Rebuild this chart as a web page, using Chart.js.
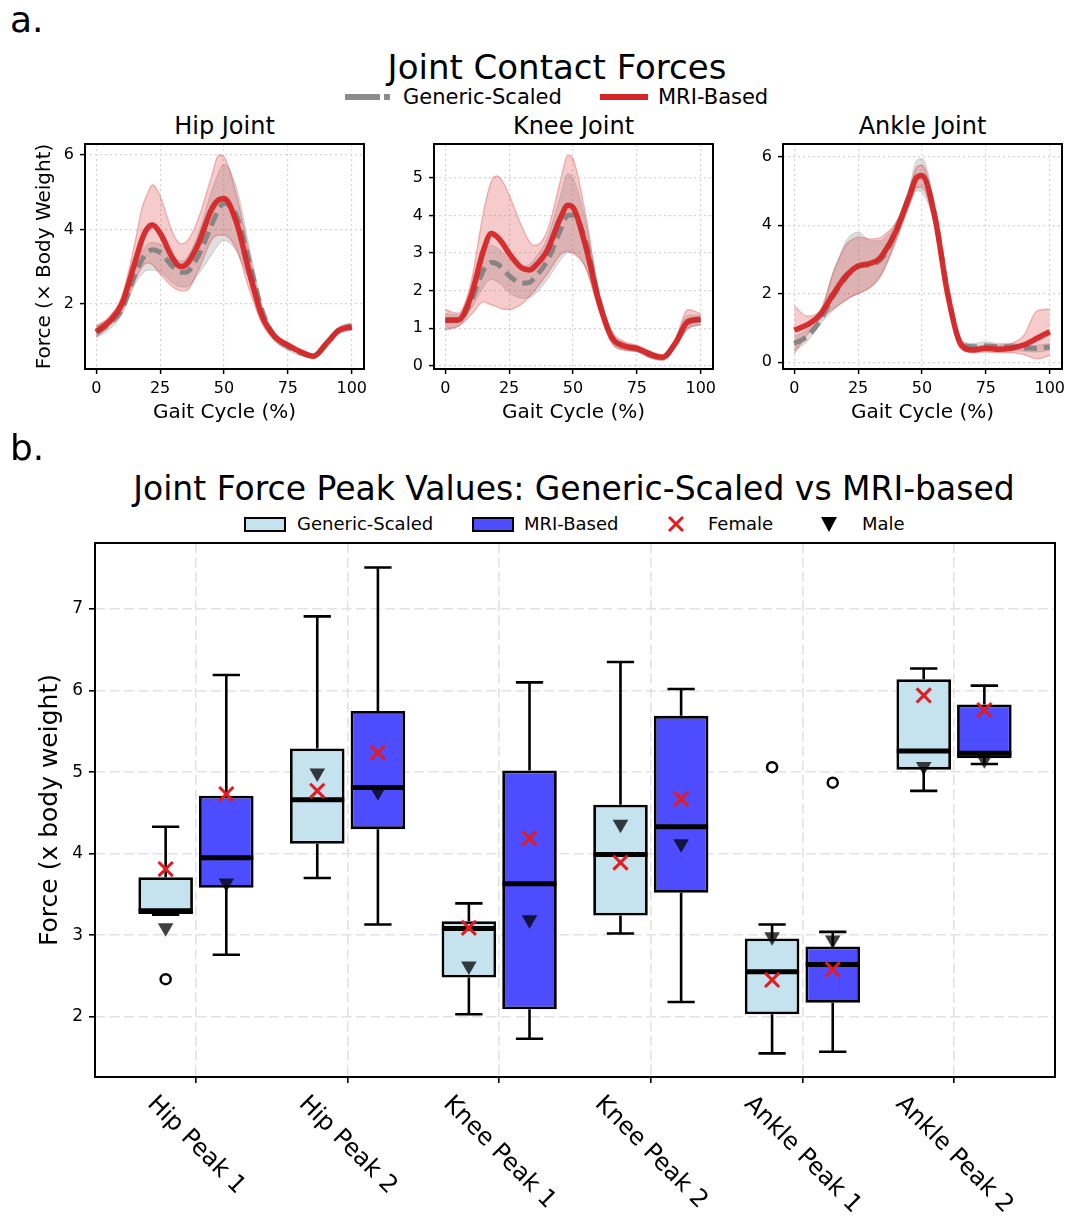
<!DOCTYPE html>
<html>
<head>
<meta charset="utf-8">
<title>Joint Contact Forces</title>
<script src="https://cdn.jsdelivr.net/npm/chart.js@4.4.1/dist/chart.umd.min.js"></script>
<style>
  html, body { margin: 0; padding: 0; background: #fff; }
  body { width: 1068px; height: 1220px; position: relative; overflow: hidden;
         font-family: "DejaVu Sans", sans-serif; color: #000; }
  .txt { position: absolute; white-space: nowrap; line-height: 1; }
  .ctr { transform: translateX(-50%); }
  canvas, svg { position: absolute; }
  .swatch { position: absolute; box-sizing: border-box; border: 2px solid #000; }
</style>
</head>
<body>

<div class="txt" style="left:10px; top:2px; font-size:36px;">a.</div>
<div class="txt ctr" style="left:557px; top:50px; font-size:34px;">Joint Contact Forces</div>

<svg style="left:345px; top:92px;" width="46" height="10">
  <line x1="0" y1="5" x2="46" y2="5" stroke="#8c8c8c" stroke-width="6" stroke-dasharray="35 4 6 100"/>
</svg>
<div class="txt" style="left:403px; top:87px; font-size:21px;">Generic-Scaled</div>
<svg style="left:600px; top:92px;" width="48" height="10">
  <line x1="0" y1="5" x2="48" y2="5" stroke="#d62728" stroke-width="6"/>
</svg>
<div class="txt" style="left:658px; top:87px; font-size:21px;">MRI-Based</div>

<div class="txt ctr" style="left:224.5px; top:114px; font-size:24px;">Hip Joint</div>
<div class="txt ctr" style="left:573.5px; top:114px; font-size:24px;">Knee Joint</div>
<div class="txt ctr" style="left:922.5px; top:114px; font-size:24px;">Ankle Joint</div>

<canvas id="hip" width="339" height="297" style="left:29px; top:134px;"></canvas>
<canvas id="knee" width="339" height="297" style="left:378px; top:134px;"></canvas>
<canvas id="ankle" width="339" height="297" style="left:727px; top:134px;"></canvas>

<div class="txt" style="left:10px; top:430px; font-size:36px;">b.</div>
<div class="txt ctr" style="left:574px; top:472px; font-size:33px;">Joint Force Peak Values: Generic-Scaled vs MRI-based</div>

<div class="swatch" style="left:244px; top:517px; width:42px; height:15px; background:#c5e3ee;"></div>
<div class="txt" style="left:297px; top:515px; font-size:18px;">Generic-Scaled</div>
<div class="swatch" style="left:472px; top:517px; width:42px; height:15px; background:#4d4dff;"></div>
<div class="txt" style="left:524px; top:515px; font-size:18px;">MRI-Based</div>
<svg style="left:667px; top:515px;" width="18" height="18">
  <line x1="2" y1="2" x2="16" y2="16" stroke="#e6191f" stroke-width="3"/>
  <line x1="16" y1="2" x2="2" y2="16" stroke="#e6191f" stroke-width="3"/>
</svg>
<div class="txt" style="left:708px; top:515px; font-size:18px;">Female</div>
<svg style="left:820px; top:516px;" width="18" height="18">
  <polygon points="1,1 17,1 9,16" fill="#000"/>
</svg>
<div class="txt" style="left:862px; top:515px; font-size:18px;">Male</div>

<canvas id="peaks" width="1038" height="690" style="left:30px; top:530px;"></canvas>

<script>
// ---------- Joint contact force curves (× body weight) over the gait cycle ----------
const gait = [0, 5, 10, 15, 18, 20, 22, 25, 30, 33, 35, 40, 45, 48, 50, 55, 60, 65, 70, 75, 80, 85, 90, 95, 100];

const hipGenMean = [1.22, 1.45, 1.85, 2.75, 3.20, 3.38, 3.45, 3.38, 3.00, 2.85, 2.85, 3.30, 4.10, 4.55, 4.70, 4.35, 3.10, 1.80, 1.10, 0.85, 0.68, 0.60, 0.90, 1.30, 1.40];
const hipGenLo   = [1.10, 1.30, 1.70, 2.50, 2.80, 2.90, 2.90, 2.85, 2.55, 2.45, 2.45, 2.80, 3.30, 3.60, 3.70, 3.40, 2.60, 1.60, 1.00, 0.75, 0.60, 0.52, 0.82, 1.20, 1.30];
const hipGenHi   = [1.40, 1.60, 2.00, 2.95, 3.40, 3.60, 3.65, 3.60, 3.30, 3.15, 3.20, 3.90, 5.00, 5.55, 5.75, 5.10, 3.50, 1.95, 1.20, 0.95, 0.75, 0.66, 0.98, 1.38, 1.50];
const hipMriMean = [1.25, 1.52, 2.00, 3.08, 3.75, 4.03, 4.12, 3.90, 3.22, 3.00, 3.04, 3.62, 4.52, 4.80, 4.83, 4.16, 2.82, 1.65, 1.11, 0.89, 0.71, 0.59, 0.93, 1.29, 1.38];
const hipMriLo   = [1.10, 1.40, 1.80, 2.60, 3.00, 3.10, 3.05, 2.80, 2.45, 2.35, 2.35, 2.90, 3.70, 3.85, 3.85, 3.45, 2.35, 1.45, 1.00, 0.80, 0.65, 0.55, 0.85, 1.20, 1.30];
const hipMriHi   = [1.40, 1.65, 2.20, 3.60, 4.60, 4.95, 5.20, 4.90, 3.90, 3.62, 3.65, 4.30, 5.40, 6.00, 5.95, 4.90, 3.30, 1.85, 1.20, 0.95, 0.75, 0.63, 0.98, 1.35, 1.45];

const kneeGenMean = [1.20, 1.20, 1.70, 2.55, 2.75, 2.72, 2.62, 2.40, 2.20, 2.22, 2.35, 2.80, 3.60, 4.00, 4.00, 3.30, 1.80, 0.78, 0.52, 0.45, 0.30, 0.22, 0.60, 1.15, 1.22];
const kneeGenLo   = [1.00, 1.05, 1.50, 2.10, 2.30, 2.25, 2.15, 1.95, 1.80, 1.82, 1.90, 2.30, 2.80, 3.00, 3.00, 2.60, 1.55, 0.65, 0.42, 0.38, 0.22, 0.16, 0.52, 0.98, 1.10];
const kneeGenHi   = [1.40, 1.35, 1.90, 3.00, 3.20, 3.15, 3.05, 2.85, 2.65, 2.70, 2.85, 3.40, 4.50, 5.10, 5.00, 3.80, 2.00, 0.90, 0.62, 0.52, 0.37, 0.28, 0.68, 1.35, 1.35];
const kneeMriMean = [1.22, 1.22, 1.84, 3.08, 3.52, 3.45, 3.30, 2.99, 2.60, 2.55, 2.64, 3.08, 3.92, 4.27, 4.21, 3.17, 1.75, 0.78, 0.53, 0.47, 0.32, 0.23, 0.60, 1.18, 1.24];
const kneeMriLo   = [0.95, 1.05, 1.35, 1.70, 1.62, 1.58, 1.52, 1.50, 1.65, 1.85, 2.00, 2.45, 2.95, 3.05, 3.00, 2.60, 1.50, 0.62, 0.42, 0.38, 0.22, 0.15, 0.50, 1.00, 1.10];
const kneeMriHi   = [1.50, 1.40, 2.20, 4.10, 4.90, 5.05, 4.95, 4.55, 3.70, 3.30, 3.20, 3.60, 4.90, 5.60, 5.50, 4.00, 2.00, 0.95, 0.65, 0.55, 0.40, 0.30, 0.70, 1.50, 1.40];

const ankleGenMean = [0.55, 0.75, 1.20, 1.90, 2.25, 2.45, 2.62, 2.80, 2.85, 2.95, 3.10, 3.85, 4.85, 5.42, 5.46, 4.30, 2.05, 0.60, 0.45, 0.48, 0.45, 0.45, 0.42, 0.40, 0.45];
const ankleGenLo   = [0.35, 0.60, 1.10, 1.50, 1.70, 1.80, 1.90, 2.00, 2.20, 2.40, 2.65, 3.55, 4.55, 5.00, 4.95, 4.00, 1.90, 0.50, 0.35, 0.38, 0.36, 0.35, 0.32, 0.30, 0.35];
const ankleGenHi   = [0.75, 0.95, 1.30, 2.60, 3.15, 3.50, 3.70, 3.80, 3.55, 3.55, 3.60, 4.10, 5.10, 5.90, 5.95, 4.55, 2.20, 0.70, 0.55, 0.60, 0.55, 0.55, 0.50, 0.50, 0.55];
const ankleMriMean = [0.94, 1.09, 1.38, 1.96, 2.30, 2.50, 2.65, 2.81, 2.89, 3.00, 3.18, 3.86, 4.83, 5.40, 5.44, 4.25, 2.01, 0.55, 0.36, 0.41, 0.38, 0.41, 0.51, 0.70, 0.89];
const ankleMriLo   = [0.25, 0.80, 1.25, 1.55, 1.70, 1.80, 1.90, 2.00, 2.20, 2.45, 2.70, 3.60, 4.60, 5.10, 5.10, 4.00, 1.85, 0.40, 0.28, 0.30, 0.28, 0.28, 0.22, 0.10, 0.20];
const ankleMriHi   = [1.65, 1.35, 1.50, 2.55, 3.10, 3.40, 3.55, 3.65, 3.60, 3.62, 3.70, 4.10, 5.00, 5.70, 5.75, 4.50, 2.20, 0.70, 0.45, 0.50, 0.50, 0.55, 0.80, 1.50, 1.55];

const gaitTicks = [0, 25, 50, 75, 100];

// ---------- Peak joint force distributions (× body weight) ----------
const categories = ['Hip Peak 1', 'Hip Peak 2', 'Knee Peak 1', 'Knee Peak 2', 'Ankle Peak 1', 'Ankle Peak 2'];
const peakTicks = [2, 3, 4, 5, 6, 7];

const genWhiskerLow  = [3.25, 3.70, 2.03, 3.02, 1.55, 4.77];
const genQ1          = [3.26, 4.12, 2.48, 3.24, 2.03, 5.03];
const genMedian      = [3.30, 4.66, 3.08, 3.99, 2.55, 5.26];
const genQ3          = [3.71, 5.29, 3.17, 4.60, 2.96, 6.14];
const genWhiskerHigh = [4.33, 6.91, 3.39, 6.35, 3.13, 6.27];
const genOutliers    = [[2.46], [], [], [], [5.06], []];
const genFemale      = [3.81, 4.77, 3.09, 3.89, 2.45, 5.94];
const genMale        = [3.09, 4.99, 2.62, 4.36, 2.98, 5.07];

const mriWhiskerLow  = [2.76, 3.13, 1.73, 2.18, 1.57, 5.10];
const mriQ1          = [3.58, 4.30, 2.09, 3.52, 2.17, 5.17];
const mriMedian      = [3.95, 4.81, 3.63, 4.33, 2.64, 5.23];
const mriQ3          = [4.71, 5.75, 5.02, 5.69, 2.86, 5.83];
const mriWhiskerHigh = [6.19, 7.51, 6.10, 6.02, 3.04, 6.06];
const mriOutliers    = [[], [], [], [], [4.87], []];
const mriFemale      = [4.73, 5.24, 4.19, 4.67, 2.58, 5.76];
const mriMale        = [3.64, 4.76, 3.19, 4.12, 2.94, 5.15];

// ---------- shared styling ----------
Chart.defaults.font.family = '"DejaVu Sans", sans-serif';
Chart.defaults.color = '#000';

const GEN_LINE = 'rgba(128,128,128,0.9)';
const GEN_BAND = 'rgba(128,128,128,0.26)';
const GEN_EDGE = 'rgba(128,128,128,0.3)';
const MRI_LINE = 'rgba(214,39,40,0.95)';
const MRI_BAND = 'rgba(214,39,40,0.24)';
const MRI_EDGE = 'rgba(214,39,40,0.3)';

// Black frame around the plotting area (all four spines)
const frame = {
  id: 'frame',
  afterDraw(chart, args, opts) {
    const { ctx, chartArea: a } = chart;
    ctx.save();
    ctx.strokeStyle = '#000';
    ctx.lineWidth = opts.width || 2;
    ctx.strokeRect(a.left, a.top, a.right - a.left, a.bottom - a.top);
    ctx.restore();
  }
};

// Fixed axis footprint so the plotting area sits at a known place
const fixHeight = h => s => { s.height = h; s.paddingLeft = 0; s.paddingRight = 0; };
const fixWidth = w => s => { s.width = w; s.paddingTop = 0; s.paddingBottom = 0; };

function drawPanel(id, p) {
  const xy = ys => gait.map((g, i) => ({ x: g, y: ys[i] }));
  const smooth = { pointRadius: 0, cubicInterpolationMode: 'monotone' };
  const gridDotted = { color: '#d4d4d4', lineWidth: 1.2, tickColor: '#000', tickLength: 5, tickWidth: 1.5 };
  new Chart(document.getElementById(id), {
    type: 'line',
    data: {
      datasets: [
        { ...smooth, data: xy(p.genLo), borderColor: GEN_EDGE, borderWidth: 1, fill: false, order: 3 },
        { ...smooth, data: xy(p.genHi), borderColor: GEN_EDGE, borderWidth: 1, fill: '-1', backgroundColor: GEN_BAND, order: 3 },
        { ...smooth, data: xy(p.mriLo), borderColor: MRI_EDGE, borderWidth: 1.3, fill: false, order: 2 },
        { ...smooth, data: xy(p.mriHi), borderColor: MRI_EDGE, borderWidth: 1.3, fill: '-1', backgroundColor: MRI_BAND, order: 2 },
        { ...smooth, data: xy(p.genMean), borderColor: GEN_LINE, borderWidth: 5, borderDash: [13, 7], fill: false, order: 1 },
        { ...smooth, data: xy(p.mriMean), borderColor: MRI_LINE, borderWidth: 5.5, fill: false, order: 0 }
      ]
    },
    options: {
      responsive: false,
      animation: false,
      layout: { padding: { top: 10, right: 4, left: 0, bottom: 0 } },
      plugins: { legend: { display: false }, tooltip: { enabled: false }, frame: { width: 2 } },
      scales: {
        x: {
          type: 'linear', min: -4.4, max: 104.8,
          afterFit: fixHeight(62),
          afterBuildTicks: s => { s.ticks = gaitTicks.map(v => ({ value: v })); },
          ticks: { font: { size: 16 }, padding: 5, maxRotation: 0, autoSkip: false },
          grid: gridDotted,
          border: { display: false, dash: [2, 3] },
          title: { display: true, text: 'Gait Cycle (%)', font: { size: 20 }, padding: { top: 0, bottom: 6 } }
        },
        y: {
          type: 'linear', min: p.yMin, max: p.yMax,
          afterFit: fixWidth(56),
          afterBuildTicks: s => { s.ticks = p.yTicks.map(v => ({ value: v })); },
          ticks: { font: { size: 16 }, padding: 6 },
          grid: gridDotted,
          border: { display: false, dash: [2, 3] },
          title: { display: p.yTitle, text: 'Force (× Body Weight)', font: { size: 20 }, padding: { top: 4, bottom: 0 } }
        }
      }
    },
    plugins: [frame]
  });
}

drawPanel('hip', {
  genMean: hipGenMean, genLo: hipGenLo, genHi: hipGenHi,
  mriMean: hipMriMean, mriLo: hipMriLo, mriHi: hipMriHi,
  yMin: 0.247, yMax: 6.296, yTicks: [2, 4, 6], yTitle: true
});
drawPanel('knee', {
  genMean: kneeGenMean, genLo: kneeGenLo, genHi: kneeGenHi,
  mriMean: kneeMriMean, mriLo: kneeMriLo, mriHi: kneeMriHi,
  yMin: -0.08, yMax: 5.895, yTicks: [0, 1, 2, 3, 4, 5], yTitle: false
});
drawPanel('ankle', {
  genMean: ankleGenMean, genLo: ankleGenLo, genHi: ankleGenHi,
  mriMean: ankleMriMean, mriLo: ankleMriLo, mriHi: ankleMriHi,
  yMin: -0.196, yMax: 6.37, yTicks: [0, 2, 4, 6], yTitle: false
});

// ---------- box plots ----------
const GEN_POS = -0.2, MRI_POS = 0.2;   // offsets from each category position
const HALF_BOX = 0.178, HALF_CAP = 0.09;

const boxData = (pos, q1, q3) => categories.map((_, i) => ({ x: i + pos, y: [q1[i], q3[i]] }));

function whiskerData(pos, lo, q1, q3, hi) {
  const pts = [];
  categories.forEach((_, i) => {
    const x = i + pos;
    pts.push({ x, y: q1[i] }, { x, y: lo[i] }, { x, y: null });
    pts.push({ x, y: q3[i] }, { x, y: hi[i] }, { x, y: null });
    pts.push({ x: x - HALF_CAP, y: lo[i] }, { x: x + HALF_CAP, y: lo[i] }, { x, y: null });
    pts.push({ x: x - HALF_CAP, y: hi[i] }, { x: x + HALF_CAP, y: hi[i] }, { x, y: null });
  });
  return pts;
}

function medianData(pos, med) {
  const pts = [];
  categories.forEach((_, i) => {
    const x = i + pos;
    pts.push({ x: x - HALF_BOX, y: med[i] }, { x: x + HALF_BOX, y: med[i] }, { x, y: null });
  });
  return pts;
}

const pointsAt = (pos, vals) => vals.map((v, i) => ({ x: i + pos, y: v }));
const outlierPoints = (pos, lists) => lists.flatMap((arr, i) => arr.map(v => ({ x: i + pos, y: v })));

// Category names are set diagonally below the axis, centred on each tick
const slantedLabels = {
  id: 'slantedLabels',
  afterDraw(chart, args, opts) {
    const { ctx, chartArea, scales: { x } } = chart;
    ctx.save();
    ctx.font = `${opts.size}px "DejaVu Sans", sans-serif`;
    ctx.fillStyle = '#000';
    ctx.textAlign = 'center';
    ctx.textBaseline = 'middle';
    categories.forEach((label, i) => {
      const px = x.getPixelForValue(i);
      const w = ctx.measureText(label).width;
      const half = (w + 0.97 * opts.size) * Math.SQRT1_2 / 2;
      ctx.save();
      ctx.translate(px, chartArea.bottom + opts.offset + half);
      ctx.rotate(Math.PI / 4);
      ctx.fillText(label, 0, 0);
      ctx.restore();
    });
    ctx.restore();
  }
};

const lineSeg = { type: 'line', borderColor: '#000', pointRadius: 0, fill: false, spanGaps: false, tension: 0, borderCapStyle: 'butt' };
const gridDashed = { color: '#e2e2e2', lineWidth: 1.6, tickColor: '#000', tickLength: 6, tickWidth: 1.6 };

new Chart(document.getElementById('peaks'), {
  type: 'bar',
  data: {
    datasets: [
      { type: 'bar', label: 'Generic-Scaled', data: boxData(GEN_POS, genQ1, genQ3),
        backgroundColor: '#c5e3ee', borderColor: '#000', borderWidth: 2.8, borderSkipped: false,
        grouped: false, categoryPercentage: 1, barPercentage: 0.9, order: 6 },
      { type: 'bar', label: 'MRI-Based', data: boxData(MRI_POS, mriQ1, mriQ3),
        backgroundColor: '#4d4dff', borderColor: '#000', borderWidth: 2.8, borderSkipped: false,
        grouped: false, categoryPercentage: 1, barPercentage: 0.9, order: 6 },
      { ...lineSeg, data: whiskerData(GEN_POS, genWhiskerLow, genQ1, genQ3, genWhiskerHigh), borderWidth: 2.6, order: 5 },
      { ...lineSeg, data: whiskerData(MRI_POS, mriWhiskerLow, mriQ1, mriQ3, mriWhiskerHigh), borderWidth: 2.6, order: 5 },
      { ...lineSeg, data: medianData(GEN_POS, genMedian), borderWidth: 5, order: 4 },
      { ...lineSeg, data: medianData(MRI_POS, mriMedian), borderWidth: 5, order: 4 },
      { type: 'scatter', data: outlierPoints(GEN_POS, genOutliers).concat(outlierPoints(MRI_POS, mriOutliers)),
        pointStyle: 'circle', pointRadius: 5, pointBorderColor: '#000', pointBorderWidth: 2.5,
        pointBackgroundColor: 'rgba(255,255,255,0)', order: 3 },
      { type: 'scatter', label: 'Male', data: pointsAt(GEN_POS, genMale).concat(pointsAt(MRI_POS, mriMale)),
        pointStyle: 'triangle', pointRotation: 180, pointRadius: 9, pointBorderWidth: 0,
        pointBackgroundColor: 'rgba(0,0,0,0.75)', pointBorderColor: 'rgba(0,0,0,0)', order: 2 },
      { type: 'scatter', label: 'Female', data: pointsAt(GEN_POS, genFemale).concat(pointsAt(MRI_POS, mriFemale)),
        pointStyle: 'crossRot', pointRadius: 10, pointBorderWidth: 3,
        pointBorderColor: '#e6191f', order: 1 }
    ]
  },
  options: {
    responsive: false,
    animation: false,
    layout: { padding: { top: 8, right: 13, left: 0, bottom: 0 } },
    plugins: {
      legend: { display: false }, tooltip: { enabled: false },
      frame: { width: 2 },
      slantedLabels: { size: 24, offset: 15 }
    },
    scales: {
      x: {
        type: 'linear', min: -0.666, max: 5.666, offset: false,
        afterBuildTicks: s => { s.ticks = categories.map((_, i) => ({ value: i })); },
        afterFit: fixHeight(143),
        ticks: { display: false },
        grid: { ...gridDashed, offset: false },
        border: { display: false, dash: [10, 4.5] }
      },
      y: {
        type: 'linear', min: 1.26, max: 7.81,
        afterBuildTicks: s => { s.ticks = peakTicks.map(v => ({ value: v })); },
        afterFit: fixWidth(65),
        ticks: { font: { size: 17 }, padding: 6 },
        grid: gridDashed,
        border: { display: false, dash: [10, 4.5] },
        title: { display: true, text: 'Force (x body weight)', font: { size: 25 }, padding: { top: 5, bottom: 0 } }
      }
    }
  },
  plugins: [frame, slantedLabels]
});
</script>
</body>
</html>
